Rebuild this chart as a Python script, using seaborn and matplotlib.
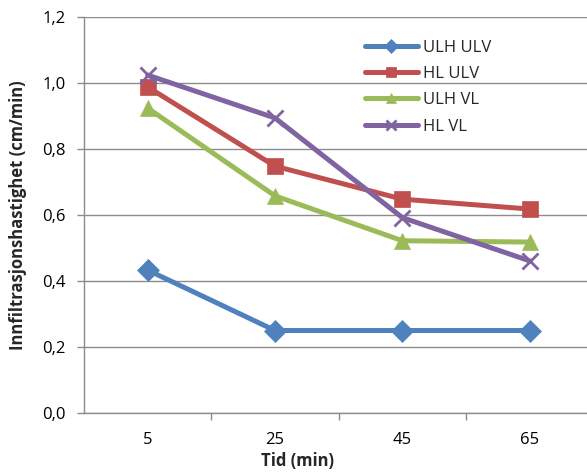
import matplotlib
matplotlib.use("Agg")
import matplotlib.pyplot as plt
import seaborn as sns
import pandas as pd
from matplotlib.ticker import FixedLocator, FuncFormatter

times = ["5", "25", "45", "65"]
series = ["ULH ULV", "HL ULV", "ULH VL", "HL VL"]
ulh_ulv = [0.433, 0.25, 0.25, 0.25]
hl_ulv = [0.988, 0.748, 0.648, 0.618]
ulh_vl = [0.924, 0.658, 0.522, 0.518]
hl_vl = [1.024, 0.894, 0.592, 0.461]
colors = ["#4F81BD", "#C0504D", "#9BBB59", "#8064A2"]
markers = ["D", "s", "^", "x"]
msizes = [11, 12, 12, 11]

vals = [ulh_ulv, hl_ulv, ulh_vl, hl_vl]
rows = []
for s, v in zip(series, vals):
    for i, (t, y) in enumerate(zip(times, v)):
        rows.append({"pos": i, "Tid": t, "val": y, "serie": s})
df = pd.DataFrame(rows)

sns.set_style("white")
plt.rcParams["font.family"] = ["Open Sans", "DejaVu Sans"]

fig = plt.figure(figsize=(5.87, 4.73), dpi=100)
ax = fig.add_axes([84 / 587, 60 / 473, (587 - 84) / 587, (413 - 17) / 473])

for s, c, m, ms in zip(series, colors, markers, msizes):
    sub = df[df.serie == s]
    sns.lineplot(data=sub, x="pos", y="val", ax=ax, color=c, lw=3.6,
                 marker=m, markersize=ms, markeredgecolor=c,
                 markeredgewidth=2 if m == "x" else 0.5, label=s)

ax.set_xlabel("")
ax.set_ylabel("")
ax.set_xlim(-0.5, 3.45)
ax.set_ylim(0, 1.2)
ax.yaxis.set_major_locator(FixedLocator([0, 0.2, 0.4, 0.6, 0.8, 1.0, 1.2]))
ax.yaxis.set_major_formatter(FuncFormatter(lambda v, p: f"{v:.1f}".replace(".", ",")))
ax.set_xticks([0.5, 1.5, 2.5])
ax.set_xticklabels([])
for i, t in enumerate(times):
    ax.text(i, -0.083, t, ha="center", va="center", fontsize=12, color="#000000",
            transform=ax.transData, clip_on=False)
ax.grid(axis="y", color="#8C8C8C", lw=1)
ax.set_axisbelow(True)
for sp in ["top", "right"]:
    ax.spines[sp].set_visible(False)
for sp in ["left", "bottom"]:
    ax.spines[sp].set_color("#8C8C8C")
    ax.spines[sp].set_linewidth(1)
ax.tick_params(axis="both", direction="out", length=5, color="#8C8C8C", width=1,
               labelsize=12, labelcolor="#000000", left=True, bottom=True)
ax.tick_params(axis="y", pad=8)

fig.text(298 / 587, 1 - 461 / 473, "Tid (min)", fontsize=12, fontweight="bold",
         ha="center", va="center")
fig.text(18 / 587, 1 - 215 / 473, "Innfiltrasjonshastighet (cm/min)", fontsize=12,
         fontweight="bold", ha="center", va="center", rotation=90)

leg = ax.legend(loc="upper left", bbox_to_anchor=((358 - 84) / 503, (413 - 33) / 396),
                frameon=False, fontsize=12, handlelength=3.2, handletextpad=0.3,
                labelspacing=0.62, borderaxespad=0)
for h in leg.legend_handles:
    h.set_markersize(7)

fig.savefig("out.png", dpi=100)
